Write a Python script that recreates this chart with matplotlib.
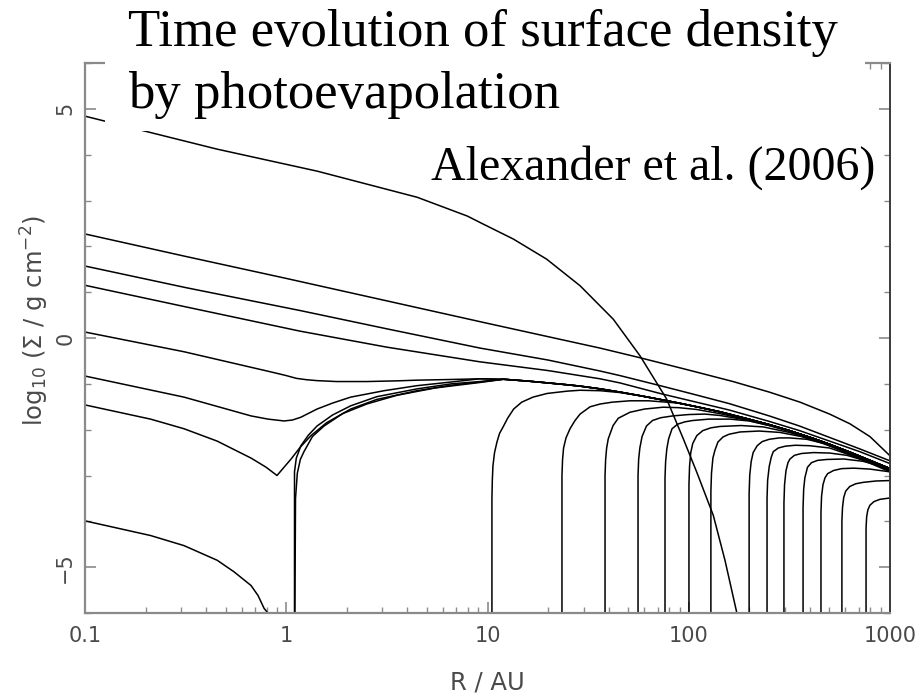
import numpy as np
import matplotlib
matplotlib.use("Agg")
import matplotlib.pyplot as plt
from matplotlib.patches import Rectangle
from matplotlib.ticker import FixedLocator, NullFormatter, FixedFormatter

# ---------------------------------------------------------------------------
# Surface density profiles.  Each curve is a list of
# (log10 R / AU, log10 Sigma / g cm^-2) pairs.
# ---------------------------------------------------------------------------
initial_disc = [(-1.0, 4.84), (-0.69, 4.50), (-0.343, 4.12), (0.154, 3.64), (0.651, 3.07),
                (0.90, 2.66), (0.963, 2.52), (1.128, 2.16), (1.294, 1.72), (1.46, 1.14),
                (1.625, 0.41), (1.758, -0.39), (1.89, -1.33), (1.973, -2.20),
                (2.04, -2.93), (2.122, -3.87), (2.18, -4.85), (2.238, -5.98)]

early_1 = [(-1.0, 2.27), (-0.5, 1.78), (0.0, 1.30), (0.5, 0.81), (1.0, 0.32), (1.3, 0.03),
           (1.559, -0.22), (1.748, -0.42), (2.0, -0.70), (2.22, -0.95), (2.4, -1.18),
           (2.553, -1.40), (2.7, -1.66), (2.8, -1.87), (2.9, -2.15), (3.0, -2.57)]

early_2 = [(-1.0, 1.57), (-0.5, 1.10), (0.068, 0.60), (0.5, 0.20), (0.963, -0.22),
           (1.3, -0.48), (1.559, -0.72), (1.658, -0.82), (1.84, -1.02), (2.0, -1.20),
           (2.2, -1.43), (2.4, -1.70), (2.55, -1.92), (2.7, -2.17), (2.85, -2.42),
           (3.0, -2.68)]

early_3 = [(-1.0, 1.15), (-0.5, 0.68), (0.068, 0.15), (0.5, -0.20), (0.963, -0.52),
           (1.3, -0.71), (1.559, -0.89), (1.658, -0.98), (1.866, -1.22), (2.0, -1.36),
           (2.2, -1.57), (2.4, -1.82), (2.55, -2.02), (2.7, -2.25), (2.85, -2.48),
           (3.0, -2.74)]

# outer profile that the evolved discs settle onto
outer_logr = [0.65, 0.82, 0.963, 1.08, 1.2, 1.3, 1.395, 1.46, 1.56, 1.658, 1.76, 1.857,
              1.95, 2.05, 2.155, 2.289, 2.4, 2.5, 2.618, 2.7, 2.8, 2.9, 3.0]
outer_sigma = [-0.92, -0.905, -0.89, -0.90, -0.94, -0.98, -1.02, -1.05, -1.11, -1.18,
               -1.26, -1.34, -1.42, -1.51, -1.61, -1.76, -1.89, -2.02, -2.19, -2.32,
               -2.49, -2.67, -2.85]

mid_1 = [(-1.0, 0.13), (-0.508, -0.30), (-0.076, -0.74), (0.0, -0.82), (0.05, -0.88),
         (0.1, -0.91), (0.153, -0.93), (0.25, -0.95), (0.4, -0.95), (0.55, -0.935)]
mid_2 = [(-1.0, -0.83), (-0.508, -1.29), (-0.175, -1.70), (-0.09, -1.77), (-0.011, -1.81),
         (0.03, -1.79), (0.072, -1.73), (0.153, -1.55), (0.23, -1.42), (0.32, -1.29),
         (0.486, -1.15), (0.65, -1.04), (0.82, -0.96)]
mid_3 = [(-1.0, -1.46), (-0.674, -1.77), (-0.508, -1.98), (-0.343, -2.25), (-0.175, -2.62),
         (-0.1, -2.82), (-0.046, -3.00), (0.024, -2.64), (0.07, -2.38), (0.123, -2.13),
         (0.2, -1.85), (0.32, -1.55), (0.45, -1.34), (0.65, -1.15), (0.82, -1.03),
         (0.963, -0.96)]
inner_hole_1 = [(0.041, -6.0), (0.041, -2.92), (0.05, -2.62), (0.073, -2.35), (0.11, -2.12),
                (0.153, -1.92), (0.23, -1.68), (0.32, -1.48), (0.45, -1.28), (0.65, -1.11),
                (0.82, -1.00), (0.963, -0.95)]
inner_hole_2 = [(0.043, -6.0), (0.046, -3.50), (0.055, -2.95), (0.07, -2.65), (0.088, -2.48),
                (0.13, -2.15), (0.188, -1.92), (0.28, -1.65), (0.40, -1.44), (0.55, -1.25),
                (0.74, -1.09), (0.963, -0.97)]

depleted = [(-1.0, -3.99), (-0.674, -4.31), (-0.508, -4.53), (-0.343, -4.85),
            (-0.26, -5.10), (-0.175, -5.40), (-0.14, -5.62), (-0.11, -5.90), (-0.095, -5.98)]

# discs with a cleared inner hole
hole_10 = [(1.022, -6.0), (1.022, -3.5), (1.024, -3.1), (1.027, -2.79), (1.035, -2.5),
           (1.047, -2.27), (1.06, -2.08), (1.08, -1.92), (1.10, -1.75), (1.13, -1.55),
           (1.17, -1.40), (1.226, -1.29), (1.296, -1.21), (1.395, -1.16), (1.46, -1.14),
           (1.56, -1.15), (1.658, -1.19)]
hole_23 = [(1.370, -6.0), (1.370, -3.0), (1.373, -2.65), (1.378, -2.4), (1.39, -2.18),
           (1.41, -1.98), (1.435, -1.80), (1.46, -1.66), (1.51, -1.50), (1.56, -1.44),
           (1.62, -1.40), (1.708, -1.37), (1.80, -1.37), (1.89, -1.40)]
hole_38 = [(1.584, -6.0), (1.584, -3.0), (1.587, -2.65), (1.592, -2.4), (1.60, -2.2),
           (1.624, -1.91), (1.65, -1.75), (1.708, -1.62), (1.78, -1.55), (1.872, -1.51),
           (1.95, -1.52), (2.04, -1.56), (2.155, -1.65), (2.289, -1.78)]
hole_56 = [(1.748, -6.0), (1.748, -3.0), (1.751, -2.65), (1.757, -2.4), (1.768, -2.15),
           (1.79, -1.92), (1.82, -1.80), (1.86, -1.74), (1.92, -1.70), (2.0, -1.67),
           (2.08, -1.66), (2.155, -1.69), (2.289, -1.79), (2.42, -1.93)]
hole_76 = [(1.882, -6.0), (1.882, -3.05), (1.885, -2.7), (1.891, -2.42), (1.90, -2.2),
           (1.917, -1.98), (1.945, -1.88), (1.98, -1.83), (2.02, -1.80), (2.1, -1.77),
           (2.205, -1.77), (2.30, -1.81), (2.40, -1.91), (2.5, -2.04)]
hole_100 = [(2.001, -6.0), (2.001, -3.2), (2.004, -2.8), (2.01, -2.5), (2.02, -2.3),
            (2.04, -2.13), (2.07, -2.02), (2.11, -1.96), (2.155, -1.93), (2.26, -1.91),
            (2.37, -1.94), (2.5, -2.06), (2.618, -2.22)]
hole_129 = [(2.11, -6.0), (2.11, -3.35), (2.113, -2.95), (2.12, -2.62), (2.13, -2.45),
            (2.145, -2.27), (2.17, -2.16), (2.2, -2.10), (2.255, -2.05), (2.35, -2.03),
            (2.453, -2.06), (2.56, -2.15), (2.66, -2.29), (2.8, -2.52), (2.9, -2.70),
            (3.0, -2.88)]
hole_199 = [(2.30, -6.0), (2.30, -3.4), (2.303, -3.0), (2.31, -2.7), (2.32, -2.5),
            (2.34, -2.35), (2.365, -2.26), (2.40, -2.21), (2.45, -2.18), (2.50, -2.18),
            (2.587, -2.21), (2.68, -2.31), (2.8, -2.54), (2.9, -2.72), (3.0, -2.90)]
hole_245 = [(2.389, -6.0), (2.389, -3.5), (2.392, -3.1), (2.40, -2.8), (2.41, -2.6),
            (2.42, -2.48), (2.445, -2.40), (2.48, -2.36), (2.53, -2.34), (2.60, -2.35),
            (2.70, -2.40), (2.8, -2.55), (2.9, -2.73), (3.0, -2.92)]
hole_297 = [(2.473, -6.0), (2.473, -3.6), (2.476, -3.2), (2.483, -2.9), (2.493, -2.72),
            (2.503, -2.64), (2.525, -2.56), (2.56, -2.52), (2.62, -2.50), (2.70, -2.51),
            (2.786, -2.56), (2.88, -2.68), (3.0, -2.89)]
hole_370 = [(2.568, -6.0), (2.568, -3.7), (2.571, -3.3), (2.577, -3.05), (2.59, -2.82),
            (2.61, -2.72), (2.64, -2.67), (2.687, -2.65), (2.77, -2.64), (2.866, -2.69),
            (2.94, -2.78), (3.0, -2.87)]
hole_454 = [(2.657, -6.0), (2.657, -3.8), (2.66, -3.45), (2.667, -3.2), (2.677, -3.05),
            (2.69, -2.96), (2.72, -2.89), (2.76, -2.85), (2.82, -2.84), (2.9, -2.86),
            (3.0, -2.92)]
hole_577 = [(2.761, -6.0), (2.761, -4.0), (2.764, -3.7), (2.77, -3.48), (2.78, -3.34),
            (2.80, -3.24), (2.83, -3.18), (2.866, -3.15), (2.93, -3.12), (3.0, -3.11)]
hole_760 = [(2.881, -6.0), (2.881, -4.15), (2.884, -3.9), (2.89, -3.75), (2.90, -3.65),
            (2.92, -3.57), (2.95, -3.52), (3.0, -3.49)]

x_ticks = [0.1, 1, 10, 100, 1000]
x_tick_labels = ["0.1", "1", "10", "100", "1000"]
y_ticks = [-5, 0, 5]
y_tick_labels = ["\u22125", "0", "5"]

title_lines = ["Time evolution of surface density", "by photoevapolation"]
credit = "Alexander et al. (2006)"

# ---------------------------------------------------------------------------
W, H = 916, 693
fig = plt.figure(figsize=(W / 100, H / 100), dpi=100)
fig.patch.set_facecolor("white")

x0, x1, y0, y1 = 85, 890, 63, 613
ax = fig.add_axes([x0 / W, 1 - y1 / H, (x1 - x0) / W, (y1 - y0) / H])
ax.set_xscale("log")
ax.set_xlim(0.1, 1000)
ax.set_ylim(-6, 6)

line_kw = dict(color="black", lw=1.1, solid_joinstyle="round", solid_capstyle="butt")


def draw(curve, join_outer=False):
    logr = [p[0] for p in curve]
    sig = [p[1] for p in curve]
    if join_outer:
        last = logr[-1]
        for lr, s in zip(outer_logr, outer_sigma):
            if lr > last + 0.03:
                logr.append(lr)
                sig.append(s)
    ax.plot(np.power(10.0, logr), sig, **line_kw)


draw(initial_disc)
draw(early_1)
draw(early_2)
draw(early_3)
draw(depleted)
for c in (mid_1, mid_2, mid_3, inner_hole_1, inner_hole_2,
          hole_10, hole_23, hole_38, hole_56, hole_76, hole_100):
    draw(c, join_outer=True)
for c in (hole_129, hole_199, hole_245, hole_297, hole_370, hole_454, hole_577, hole_760):
    draw(c)

# frame and ticks in the PGPLOT style
frame_grey = "#8a8a8a"
label_grey = "#4a4a4a"
for side in ("left", "bottom", "top"):
    ax.spines[side].set_color(frame_grey)
    ax.spines[side].set_linewidth(1.6)
ax.spines["right"].set_color("#3a3a3a")
ax.spines["right"].set_linewidth(1.4)

ax.xaxis.set_major_locator(FixedLocator(x_ticks))
ax.xaxis.set_major_formatter(FixedFormatter(x_tick_labels))
minor_x = [m * 10.0 ** e for e in range(-1, 3) for m in range(2, 10)]
ax.xaxis.set_minor_locator(FixedLocator(minor_x))
ax.xaxis.set_minor_formatter(NullFormatter())
ax.yaxis.set_major_locator(FixedLocator(y_ticks))
ax.yaxis.set_major_formatter(FixedFormatter(y_tick_labels))
ax.yaxis.set_minor_locator(FixedLocator([v for v in range(-6, 7) if v % 5 != 0]))

ax.tick_params(which="both", direction="in", top=True, right=True, color=frame_grey,
               labelcolor=label_grey, labelsize=15)
ax.tick_params(which="major", length=8, width=1.2)
ax.tick_params(which="minor", length=4.5, width=1.0)
ax.tick_params(axis="x", pad=9)
ax.tick_params(axis="y", pad=7)
for lab in ax.get_yticklabels():
    lab.set_rotation(90)
    lab.set_va("center")

ax.set_xlabel("R / AU", fontsize=17.5, color=label_grey)
ax.xaxis.set_label_coords(0.5, -(689 - y1) / (y1 - y0))
ax.xaxis.label.set_va("baseline")
ax.set_ylabel(r"log$_{10}$ ($\Sigma$ / g cm$^{-2}$)", fontsize=17.5, color=label_grey)
ax.yaxis.set_label_coords(-(x0 - 35) / (x1 - x0), (y1 - 320) / (y1 - y0))
ax.yaxis.label.set_va("center")

# white panel behind the heading
fig.add_artist(Rectangle((105 / W, 1 - 131 / H), (865 - 105) / W, 131 / H,
                         transform=fig.transFigure, facecolor="white",
                         edgecolor="none", zorder=3))
fig.text(128 / W, 1 - 46 / H, title_lines[0], fontsize=38, family="Liberation Serif",
         ha="left", va="baseline", zorder=4)
fig.text(128 / W, 1 - 108 / H, title_lines[1], fontsize=38, family="Liberation Serif",
         ha="left", va="baseline", zorder=4)
fig.text(431 / W, 1 - 180 / H, credit, fontsize=34.5, family="Liberation Serif",
         ha="left", va="baseline", zorder=4)

fig.savefig("out.png", dpi=100)
